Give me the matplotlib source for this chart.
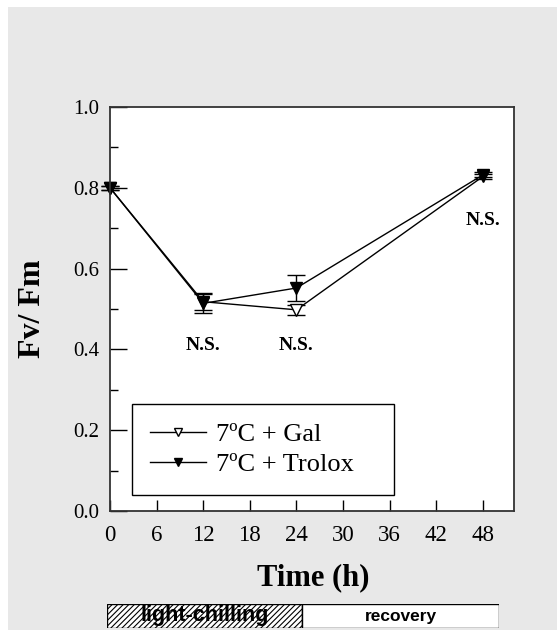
import matplotlib.pyplot as plt
from matplotlib.patches import Rectangle
from matplotlib.lines import Line2D
from matplotlib.ticker import MultipleLocator

# data
time_h = [0, 12, 24, 48]
gal = [0.800, 0.518, 0.498, 0.828]
gal_err = [0.005, 0.021, 0.012, 0.006]
trolox = [0.800, 0.514, 0.552, 0.832]
trolox_err = [0.005, 0.023, 0.031, 0.006]
ns_x = [12, 24, 48]
ns_y = [0.41, 0.41, 0.72]

plt.rcParams['font.family'] = ['Liberation Serif', 'DejaVu Serif']
plt.rcParams['hatch.linewidth'] = 0.8

fig = plt.figure(figsize=(5.57, 6.30), dpi=100, facecolor='white')
# grey panel with thin white margin top/left
fig.patches.append(Rectangle((8 / 557, 0), 1, 1 - 7 / 630, transform=fig.transFigure,
                             facecolor='#e8e8e8', edgecolor='none', zorder=-10))

ax = fig.add_axes([110 / 557, 1 - 511 / 630, 404 / 557, 404 / 630])
styles = [(gal, gal_err, 'white'), (trolox, trolox_err, 'black')]
for vals, errs, fc in styles:
    line, caps, bars = ax.errorbar(time_h, vals, yerr=errs, color='black', lw=1.0,
                                   marker='v', ms=8.5, mfc=fc, mec='black', mew=1.0,
                                   capsize=6.4, elinewidth=1.0, capthick=1.0)
    for a in [line, *caps, *bars]:
        a.set_clip_on(False)

for x, y in zip(ns_x, ns_y):
    ax.text(x, y, 'N.S.', ha='center', va='center', fontsize=14, fontweight='bold')

ax.set_xlim(0, 52)
ax.set_ylim(0, 1.0)
ax.set_xticks([0, 6, 12, 18, 24, 30, 36, 42, 48])
ax.set_yticks([0.0, 0.2, 0.4, 0.6, 0.8, 1.0])
ax.yaxis.set_minor_locator(MultipleLocator(0.1))
ax.set_yticklabels(['0.0', '0.2', '0.4', '0.6', '0.8', '1.0'])
ax.tick_params(axis='y', which='major', direction='in', length=12.5, width=1,
               labelsize=15, pad=8)
ax.tick_params(axis='y', which='minor', direction='in', length=6, width=1)
ax.tick_params(axis='x', which='major', direction='in', length=7.7, width=1,
               labelsize=16.5, pad=10)
for s in ax.spines.values():
    s.set_linewidth(1.3)
    s.set_color('#333333')

handles = [Line2D([], [], color='black', lw=1.0, marker='v', ms=6, mfc='white', mec='black'),
           Line2D([], [], color='black', lw=1.0, marker='v', ms=6, mfc='black', mec='black')]
leg = ax.legend(handles, ['7ºC + Gal', '7ºC + Trolox'], loc='lower left',
                bbox_to_anchor=(0.054, 0.04, 0.649, 0.25), mode='expand', fontsize=19,
                frameon=True, fancybox=False, edgecolor='black', framealpha=1,
                handlelength=2.1, handletextpad=0.4, borderpad=0.7,
                labelspacing=0.25, borderaxespad=0)
leg.get_frame().set_linewidth(1.0)

fig.text(33 / 557, 1 - 309 / 630, 'Fv/ Fm', rotation=90, ha='center', va='center',
         fontsize=23, fontweight='bold')
fig.text(313 / 557, 1 - 578 / 630, 'Time (h)', ha='center', va='center',
         fontsize=22, fontweight='bold')

# treatment bar under the x axis
bar = fig.add_axes([107 / 557, 1 - 628 / 630, 392 / 557, 24 / 630])
bar.set_xlim(0, 1)
bar.set_ylim(0, 1)
bar.axis('off')
split = (302 - 107) / 392
bar.add_patch(Rectangle((0, 0), split, 1, facecolor='white', edgecolor='black',
                        hatch='//////', lw=1.0))
bar.add_patch(Rectangle((split, 0), 1 - split, 1, facecolor='white', edgecolor='black',
                        lw=1.0))
bar.text(split / 2, 0.5, 'light-chilling', ha='center', va='center', fontsize=15.5,
         fontweight='bold', family='Liberation Sans')
bar.text(split + (1 - split) / 2, 0.5, 'recovery', ha='center', va='center',
         fontsize=12.5, fontweight='bold', family='Liberation Sans')

fig.savefig('out.png', dpi=100, facecolor=fig.get_facecolor())
